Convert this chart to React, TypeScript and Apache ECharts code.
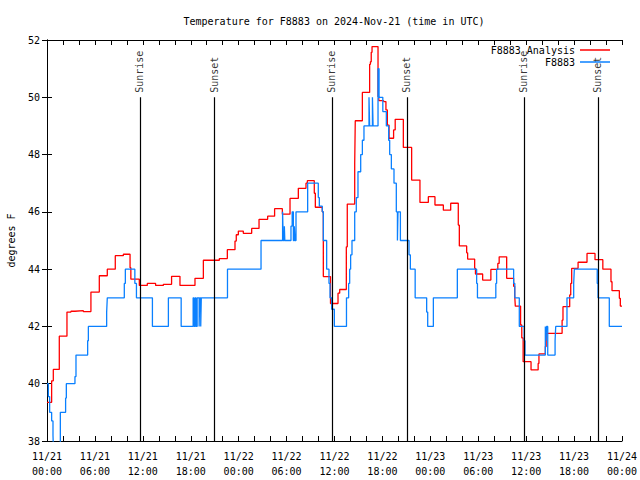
import React, { useEffect, useRef } from 'react';
import * as echarts from 'echarts';

const FONT = "'DejaVu Sans Mono', monospace";
const TITLE = 'Temperature for F8883 on 2024-Nov-21 (time in UTC)';

// hours since 2024-11-21 00:00 UTC
const redHours = [0, 0.58, 0.79, 1.54, 2.5, 3.0, 3.5, 4.55, 5.5, 6.55, 7.55, 8.55, 9.56, 10.4, 10.5, 11.56, 12.56, 13.6, 14.57, 15.6, 16.65, 18.53, 19.58, 21.58, 22.58, 23.54, 23.7, 23.96, 24.58, 25.63, 26.55, 27.63, 28.5, 29.47, 30.43, 31.47, 32.43, 32.6, 33.47, 33.6, 34.47, 34.6, 35.5, 36.44, 36.65, 37.48, 37.6, 38.53, 38.6, 39.49, 40.4, 40.5, 40.6, 40.7, 41.45, 41.55, 42.15, 42.44, 42.62, 42.83, 43.4, 43.6, 44.62, 45.66, 46.7, 47.75, 48.58, 49.63, 50.55, 51.5, 51.63, 52.55, 52.67, 53.55, 53.65, 54.55, 55.58, 56.45, 56.62, 57.56, 58.43, 58.56, 58.64, 59.3, 59.45, 59.62, 60.61, 61.5, 61.6, 62.4, 62.5, 64.5, 64.61, 65.45, 65.58, 65.7, 66.5, 67.62, 68.62, 69.6, 70.62, 70.75, 71.67, 71.79, 72];
const redTemps = [39.35, 40.1, 40.5, 41.66, 42.5, 42.53, 42.55, 42.52, 43.2, 43.77, 44.0, 44.47, 44.52, 44.05, 43.65, 43.43, 43.5, 43.43, 43.47, 43.75, 43.43, 43.68, 44.31, 44.37, 44.68, 44.98, 45.2, 45.33, 45.25, 45.42, 45.74, 45.85, 46.11, 45.92, 46.47, 46.82, 47.0, 47.09, 46.65, 46.16, 46.0, 43.74, 42.8, 43.16, 43.29, 44.78, 46.27, 47.69, 49.18, 50.17, 51.15, 51.24, 51.57, 51.77, 50.02, 49.88, 49.85, 49.56, 49.03, 48.57, 48.86, 49.23, 48.25, 47.11, 46.33, 46.53, 46.24, 46.06, 46.3, 45.54, 44.81, 44.57, 44.35, 44.03, 43.83, 43.62, 43.99, 44.2, 44.43, 43.68, 43.4, 43.1, 42.71, 42.05, 41.6, 40.77, 40.48, 40.71, 41.04, 41.3, 41.76, 42.22, 42.69, 43.1, 43.5, 44.03, 44.24, 44.55, 44.33, 44.0, 43.56, 43.25, 42.98, 42.71, 42.71];

const blueHours = [0, 0.17, 0.33, 0.58, 0.75, 0.83, 1.67, 2.33, 2.42, 3.5, 3.63, 5.09, 5.18, 7.47, 7.55, 9.68, 9.81, 11.0, 11.2, 13.2, 15.2, 16.8, 18.3, 18.4, 18.55, 18.65, 18.8, 19.05, 19.12, 19.25, 19.32, 22.6, 26.8, 29.5, 29.58, 29.72, 29.78, 30.55, 30.7, 30.85, 30.97, 31.05, 31.18, 32.64, 33.97, 34.1, 34.47, 34.6, 35.02, 35.31, 35.44, 35.65, 35.98, 37.5, 37.77, 37.9, 38.02, 38.19, 38.53, 38.73, 38.94, 39.28, 39.49, 39.69, 40.32, 40.4, 40.75, 40.83, 41.45, 41.58, 42.05, 42.49, 42.78, 42.91, 43.12, 43.45, 43.74, 43.88, 43.95, 44.25, 45.33, 45.5, 46.1, 47.54, 47.67, 48.38, 51.38, 53.8, 53.9, 56.2, 56.3, 58.43, 58.58, 59.14, 59.75, 59.85, 62.4, 62.48, 62.55, 62.7, 63.62, 63.7, 65.11, 65.95, 66.03, 68.9, 69.0, 70.41, 72];
const blueTemps = [40.0, 39.55, 39.0, 38.7, 38.2, 37.5, 39.0, 39.5, 40.0, 40.25, 41.0, 41.5, 42.0, 42.5, 43.0, 43.5, 44.0, 43.5, 43.0, 42.0, 43.0, 42.0, 43.0, 42.0, 43.0, 42.0, 43.0, 42.0, 43.0, 42.0, 43.0, 44.0, 45.0, 46.0, 45.0, 45.5, 45.0, 45.5, 46.0, 45.0, 45.5, 45.0, 46.0, 47.0, 46.5, 46.2, 46.0, 45.0, 44.0, 43.5, 43.0, 42.6, 42.0, 43.0, 43.5, 44.0, 44.5, 45.0, 46.0, 46.5, 47.4, 48.0, 48.5, 49.0, 50.0, 49.0, 50.0, 49.0, 51.0, 50.0, 49.5, 49.0, 48.5, 48.0, 47.5, 47.0, 46.0, 45.0, 46.0, 45.0, 44.5, 44.0, 43.0, 42.5, 42.0, 43.0, 44.0, 43.5, 43.0, 43.5, 44.0, 43.5, 43.0, 42.0, 41.5, 41.0, 42.0, 41.5, 42.0, 41.0, 41.5, 42.0, 43.0, 43.5, 44.0, 43.5, 43.0, 42.0, 42.0];

const sunHours = [11.62, 21.0, 35.68, 45.06, 59.72, 68.98];
const sunLabels = ['Sunrise', 'Sunset', 'Sunrise', 'Sunset', 'Sunrise', 'Sunset'];

const xLabel = (v: number) => {
  if (v % 6 !== 0) return '';
  const day = 21 + Math.floor(v / 24);
  const hh = String(v % 24).padStart(2, '0');
  return `11/${day}\n${hh}:00`;
};

const txt = { fontFamily: FONT, fontSize: 10, color: '#000' };

export default function App() {
  const ref = useRef<HTMLDivElement>(null);
  useEffect(() => {
    const chart = echarts.init(ref.current!, null, { renderer: 'svg' });
    const axisCommon = {
      axisLine: { show: true, lineStyle: { color: '#000', width: 1 } },
      axisTick: { show: true, inside: true, length: 5, lineStyle: { color: '#000', width: 1 } },
      splitLine: { show: false },
    };
    chart.setOption({
      animation: false,
      backgroundColor: '#fff',
      graphic: [
        {
          type: 'text',
          x: 334,
          y: 21,
          style: { text: TITLE, font: `10px ${FONT}`, fill: '#000', textAlign: 'center', textVerticalAlign: 'middle' },
        },
      ],
      legend: {
        data: ['F8883 Analysis', 'F8883'],
        orient: 'vertical',
        right: 30,
        top: 44,
        padding: 0,
        align: 'right',
        icon: 'rect',
        itemWidth: 30,
        itemHeight: 1.5,
        itemGap: 0,
        textStyle: { ...txt, lineHeight: 12 },
      },
      grid: { left: 47, right: 18, top: 40, bottom: 39, containLabel: false, outerBoundsMode: 'none' },
      xAxis: [
        {
          type: 'value',
          position: 'bottom',
          min: 0,
          max: 72,
          interval: 2,
          ...axisCommon,
          axisLabel: { ...txt, formatter: xLabel, margin: 8, lineHeight: 15 },
        },
        {
          type: 'value',
          position: 'top',
          min: 0,
          max: 72,
          interval: 2,
          ...axisCommon,
          axisLabel: { show: false },
        },
      ],
      yAxis: [
        {
          type: 'value',
          position: 'left',
          min: 38,
          max: 52,
          interval: 2,
          ...axisCommon,
          axisLabel: { ...txt, margin: 7 },
          name: 'degrees F',
          nameLocation: 'middle',
          nameGap: 31,
          nameRotate: 90,
          nameTextStyle: txt,
        },
        {
          type: 'value',
          position: 'right',
          min: 38,
          max: 52,
          interval: 2,
          ...axisCommon,
          axisLabel: { show: false },
        },
      ],
      series: [
        {
          name: 'sun',
          type: 'scatter',
          data: sunHours.map((h) => [h, 50]),
          symbolSize: 1,
          itemStyle: { color: 'rgba(0,0,0,0)' },
          silent: true,
          z: 2,
          label: {
            show: true,
            formatter: (p: any) => sunLabels[p.dataIndex],
            rotate: 90,
            position: [0, -4],
            align: 'left',
            verticalAlign: 'middle',
            ...txt,
          },
          markLine: {
            silent: true,
            symbol: ['none', 'none'],
            lineStyle: { color: '#000', width: 1.2, type: 'solid' },
            label: { show: false },
            data: sunHours.map((h) => [{ coord: [h, 38] }, { coord: [h, 50] }]),
          },
        },
        {
          name: 'F8883 Analysis',
          type: 'line',
          step: 'end',
          showSymbol: false,
          data: redHours.map((h, i) => [h, redTemps[i]]),
          lineStyle: { color: '#ff0000', width: 1.3 },
          itemStyle: { color: '#ff0000' },
          z: 3,
        },
        {
          name: 'F8883',
          type: 'line',
          step: 'end',
          showSymbol: false,
          data: blueHours.map((h, i) => [h, blueTemps[i]]),
          lineStyle: { color: '#0a80ff', width: 1.3 },
          itemStyle: { color: '#0a80ff' },
          z: 4,
        },
      ],
    });
    return () => chart.dispose();
  }, []);
  return <div ref={ref} style={{ position: 'fixed', left: 0, top: 0, width: 640, height: 480 }} />;
}
